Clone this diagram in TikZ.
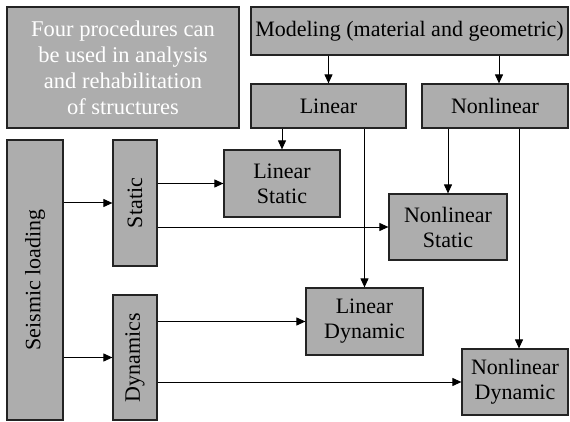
\documentclass[tikz,border=0pt]{standalone}
\usepackage{fontspec}
\setmainfont{Liberation Serif}
\usetikzlibrary{arrows.meta,calc}
\definecolor{boxgray}{RGB}{173,173,173}
\definecolor{edgegray}{RGB}{35,35,35}
\tikzset{
  box/.style={draw=edgegray, fill=boxgray, line width=1.2pt, inner sep=0pt, align=center,
    font=\fontsize{22}{25}\selectfont, text=black},
  arr/.style={draw=black, line width=1pt, -{Triangle[length=9pt,width=8pt]}},
}
\begin{document}
\begin{tikzpicture}[x=1pt,y=-1pt]
\useasboundingbox (0,0) rectangle (570,422);
\node[box, minimum width=232pt, minimum height=121pt, text=white,
      font=\fontsize{22.5}{26}\selectfont] (four) at (123,67.5)
  {Four procedures can\\be used in analysis\\and rehabilitation\\of structures};
\node[box, minimum width=317pt, minimum height=48pt] (model) at (409.5,31)
  {Modeling (material and geometric)};
\node[box, minimum width=155pt, minimum height=44pt] (lin) at (328.5,106) {Linear};
\node[box, minimum width=146pt, minimum height=44pt] (nonlin) at (495,106) {Nonlinear};
\node[box, minimum width=280pt, minimum height=56pt, rotate=90] (seis) at (35,280) {Seismic loading};
\node[box, minimum width=126pt, minimum height=44pt, rotate=90] (stat) at (135,203) {Static};
\node[box, minimum width=125pt, minimum height=44pt, rotate=90] (dyn) at (135,357.5) {Dynamics};
\node[box, minimum width=116pt, minimum height=67pt] (ls) at (282,183.5) {Linear\\Static};
\node[box, minimum width=118pt, minimum height=66pt] (ns) at (448,227) {Nonlinear\\Static};
\node[box, minimum width=117pt, minimum height=67pt] (ld) at (364.5,321.5) {Linear\\Dynamic};
\node[box, minimum width=106pt, minimum height=66pt] (nd) at (515,382) {Nonlinear\\Dynamic};
% top arrows
\draw[arr] (model.south -| lin.north) -- (lin.north);
\draw[arr] ([xshift=4pt]model.south -| nonlin.north) -- ([xshift=4pt]nonlin.north);
% vertical connectors
\draw[arr] (lin.south -| ls.north) -- (ls.north);
\draw[arr] (lin.south -| ld.north) -- (ld.north);
\draw[arr] (nonlin.south -| ns.north) -- (ns.north);
\draw[arr] ([xshift=4pt]nonlin.south -| nd.north) -- ([xshift=4pt]nd.north);
% horizontal connectors
\draw[arr] (seis.south |- stat.north) -- (stat.north);
\draw[arr] (seis.south |- dyn.north) -- (dyn.north);
\draw[arr] (stat.south |- ls.west) -- (ls.west);
\draw[arr] (stat.south |- ns.west) -- (ns.west);
\draw[arr] (dyn.south |- ld.west) -- (ld.west);
\draw[arr] (dyn.south |- nd.west) -- (nd.west);
\end{tikzpicture}
\end{document}
